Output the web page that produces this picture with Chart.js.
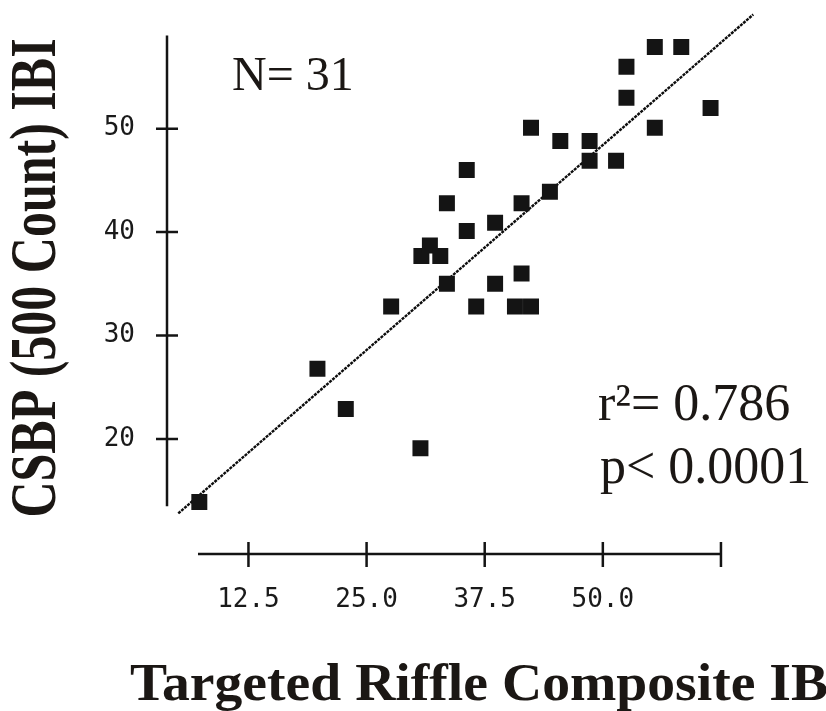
<!DOCTYPE html>
<html>
<head>
<meta charset="utf-8">
<title>CSBP vs Targeted Riffle IBI</title>
<script src="https://cdn.jsdelivr.net/npm/chart.js@4.4.1/dist/chart.umd.min.js"></script>
<style>
    body { margin: 0; background: #fff; }
    #wrap { width: 826px; height: 711px; }
</style>
</head>
<body>
<div id="wrap"><canvas id="myChart" width="826" height="711"></canvas></div>
<script>
'use strict';

// site scores: targeted riffle composite IBI vs CSBP (500 count) IBI
let riffleIbi = [7.3, 19.8, 22.8, 27.6, 30.8, 31.7, 32.8, 30.7, 33.5, 33.5, 35.6,
    35.6, 36.6, 38.6, 38.6, 40.7, 42.4, 41.4, 41.4, 42.4, 44.4, 45.5,
    48.6, 48.6, 51.4, 52.5, 52.5, 55.5, 58.3, 55.5, 61.4];
let csbpIbi = [13.9, 26.8, 22.9, 32.8, 37.7, 38.7, 37.7, 19.1, 42.8, 35.0, 46.0,
    40.1, 32.8, 40.9, 35.0, 32.8, 32.8, 36.0, 42.8, 50.1, 43.9, 48.8,
    48.8, 46.9, 46.9, 56.0, 53.0, 57.9, 57.9, 50.1, 52.0];

// regression line end points
let fitX = [5.07, 65.92];
let fitY = [12.8, 61.04];

let xTicks = [12.5, 25, 37.5, 50, 62.5];
let xTickLabels = ['12.5', '25.0', '37.5', '50.0', ''];
let yTicks = [20, 30, 40, 50];
let yTickLabels = ['20', '30', '40', '50'];

// how far the drawn axis lines run
let xAxisRange = [7.16, 62.5];
let yAxisRange = [13.5, 59];

let xTitle = 'Targeted Riffle Composite IBI';
let yTitle = 'CSBP (500 Count) IBI';
let statsText = ['N= 31', 'r\u00b2= 0.786', 'p< 0.0001'];

let points = [];
for (let i = 0; i < riffleIbi.length; i++) {
    points.push({ x: riffleIbi[i], y: csbpIbi[i] });
}
let fitLine = [];
for (let i = 0; i < fitX.length; i++) {
    fitLine.push({ x: fitX[i], y: fitY[i] });
}

// old stat-package look: axes detached from the plot, ticks crossing the line
const axesPlugin = {
    id: 'crossAxes',
    afterDatasetsDraw(chart) {
        let ctx = chart.ctx;
        let xs = chart.scales.x;
        let ys = chart.scales.y;
        let left = chart.chartArea.left;
        let bottom = chart.chartArea.bottom;
        ctx.save();
        ctx.strokeStyle = '#141414';
        ctx.lineWidth = 2.5;
        ctx.beginPath();
        ctx.moveTo(left, ys.getPixelForValue(yAxisRange[1]));
        ctx.lineTo(left, ys.getPixelForValue(yAxisRange[0]));
        ctx.moveTo(xs.getPixelForValue(xAxisRange[0]), bottom);
        ctx.lineTo(xs.getPixelForValue(xAxisRange[1]), bottom);
        for (let i = 0; i < yTicks.length; i++) {
            let py = ys.getPixelForValue(yTicks[i]);
            ctx.moveTo(left - 11, py);
            ctx.lineTo(left + 11, py);
        }
        for (let i = 0; i < xTicks.length; i++) {
            let px = xs.getPixelForValue(xTicks[i]);
            ctx.moveTo(px, bottom - 12);
            ctx.lineTo(px, bottom + 13);
        }
        ctx.stroke();
        ctx.restore();
    },
    afterDraw(chart) {
        let ctx = chart.ctx;
        ctx.save();
        ctx.fillStyle = '#1b1714';
        ctx.textBaseline = 'alphabetic';
        ctx.font = '48px "Liberation Serif"';
        ctx.fillText(statsText[0], 232, 90);
        ctx.font = '52px "Liberation Serif"';
        ctx.fillText(statsText[1], 598, 420);
        ctx.fillText(statsText[2], 600, 483);
        ctx.restore();

        // axis titles, drawn a little wide like the old figure
        ctx.save();
        ctx.fillStyle = '#1b1714';
        ctx.font = 'bold 53px "Liberation Serif"';
        ctx.textAlign = 'left';
        ctx.translate(130, 700);
        ctx.scale(1.05, 1);
        ctx.fillText(xTitle, 0, 0);
        ctx.restore();

        ctx.save();
        ctx.fillStyle = '#1b1714';
        ctx.font = 'bold 50px "Liberation Serif"';
        ctx.textAlign = 'center';
        ctx.translate(55, 278);
        ctx.rotate(-Math.PI / 2);
        ctx.scale(1, 1.3);
        ctx.fillText(yTitle, 0, 0);
        ctx.restore();
    }
};

let ctx = document.getElementById('myChart').getContext('2d');
let myChart = new Chart(ctx, {
    type: 'scatter',
    data: {
        datasets: [{
            label: 'Sites',
            data: points,
            pointStyle: 'rect',
            pointRadius: 11.3,
            pointHoverRadius: 11.3,
            backgroundColor: '#141414',
            borderWidth: 0,
            order: 1
        }, {
            type: 'line',
            label: 'Fit',
            data: fitLine,
            borderColor: '#0d0d0d',
            borderWidth: 2.4,
            borderDash: [3, 1],
            pointRadius: 0,
            fill: false,
            order: 2
        }]
    },
    options: {
        responsive: false,
        animation: false,
        layout: {
            padding: { top: 10, right: 13, left: 0, bottom: 0 }
        },
        plugins: {
            legend: { display: false },
            tooltip: { enabled: false }
        },
        scales: {
            x: {
                type: 'linear',
                min: 3.88,
                max: 72.24,
                border: { display: false },
                grid: { display: false, drawTicks: false },
                afterBuildTicks: function(scale) {
                    scale.ticks = xTicks.map(v => ({ value: v }));
                },
                afterFit: function(scale) {
                    scale.height = 157;
                    scale.paddingLeft = 0;
                    scale.paddingRight = 0;
                },
                ticks: {
                    padding: 31,
                    maxRotation: 0,
                    autoSkip: false,
                    color: '#1a1a1a',
                    font: { family: '"DejaVu Sans Mono"', size: 26 },
                    callback: function(value, index) {
                        return xTickLabels[index];
                    }
                }
            },
            y: {
                type: 'linear',
                min: 8.88,
                max: 61.35,
                border: { display: false },
                grid: { display: false, drawTicks: false },
                afterBuildTicks: function(scale) {
                    scale.ticks = yTicks.map(v => ({ value: v }));
                },
                afterFit: function(scale) {
                    scale.width = 167;
                    scale.paddingTop = 0;
                    scale.paddingBottom = 0;
                },
                ticks: {
                    padding: 32,
                    autoSkip: false,
                    color: '#1a1a1a',
                    font: { family: '"DejaVu Sans Mono"', size: 26 },
                    callback: function(value, index) {
                        return yTickLabels[index];
                    }
                }
            }
        }
    },
    plugins: [axesPlugin]
});
</script>
</body>
</html>
